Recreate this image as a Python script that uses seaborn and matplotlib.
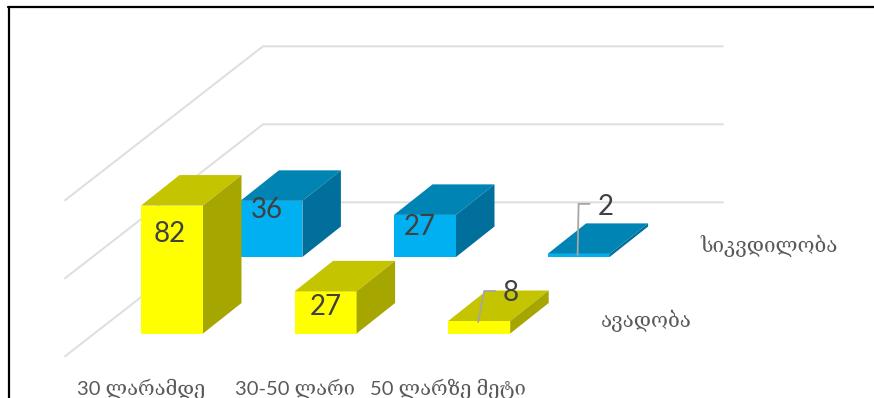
import matplotlib
matplotlib.use("Agg")
import matplotlib.pyplot as plt
from matplotlib.lines import Line2D
from matplotlib.patches import Polygon
import pandas as pd
import seaborn as sns

categories = ["30 ლარამდე", "30-50 ლარი", "50 ლარზე მეტი"]
morbidity = [82, 27, 8]
mortality = [36, 27, 2]
series_names = ["ავადობა", "სიკვდილობა"]
wall_ticks = [0, 50, 100]

sns.set_theme(style="white")
plt.rcParams["font.family"] = ["Lato", "DejaVu Serif", "DejaVu Sans"]

W, H = 874, 398
CAT_PX = 153.6      # pixels per category step
VAL_PX = 1.56       # pixels per value unit
ORIGIN_X, ORIGIN_Y = 172.0, 333.5   # category 0, value 0
BAR_WIDTH = 62 / CAT_PX
DEPTH_X, DEPTH_Y = 38.5 / CAT_PX, 30.5 / VAL_PX
ROW_SHIFT_X, ROW_SHIFT_Y = 99.4, 76.5


def px(x, y):
    """Pixel position on the canvas to data coordinates of the front plane."""
    return (x - ORIGIN_X) / CAT_PX, (ORIGIN_Y - y) / VAL_PX


fig = plt.figure(figsize=(W / 100, H / 100), dpi=100, facecolor="white")


def make_axes(left_px=0.0, up_px=0.0, zorder=0):
    ax = fig.add_axes([left_px / W, up_px / H, 1, 1], zorder=zorder)
    ax.patch.set_visible(False)
    return ax


def finish_axes(ax):
    ax.set_xlim(*(px(0, 0)[0], px(W, 0)[0]))
    ax.set_ylim(px(0, H)[1], px(0, 0)[1])
    ax.set_axis_off()


def draw_row(ax, values, front, top, side):
    frame = pd.DataFrame({"category": categories, "value": values})
    sns.barplot(data=frame, x="category", y="value", order=categories, color=front,
                saturation=1, width=BAR_WIDTH, errorbar=None, linewidth=0, ax=ax)
    for bar in list(ax.patches):
        x0, x1 = bar.get_x(), bar.get_x() + bar.get_width()
        h = bar.get_height()
        ax.add_patch(Polygon([(x0, h), (x1, h), (x1 + DEPTH_X, h + DEPTH_Y), (x0 + DEPTH_X, h + DEPTH_Y)],
                             closed=True, facecolor=top, edgecolor="none"))
        ax.add_patch(Polygon([(x1, 0), (x1, h), (x1 + DEPTH_X, h + DEPTH_Y), (x1 + DEPTH_X, DEPTH_Y)],
                             closed=True, facecolor=side, edgecolor="none"))
    finish_axes(ax)


def value_label(ax, i, value, dx, dy):
    ax.annotate(str(value), xy=(i, value), xytext=(dx * 0.72, -dy * 0.72),
                textcoords="offset points", ha="center", va="center",
                fontsize=20, color="#404040", zorder=6)


def leader(ax, i, value, points):
    xs = [i + p[0] / CAT_PX for p in points]
    ys = [value - p[1] / VAL_PX for p in points]
    ax.plot(xs, ys, color="#a6a6a6", lw=1.3, solid_joinstyle="miter", zorder=5)


# Back wall with its floor: each gridline runs in depth, then across
ax_wall = make_axes(zorder=0)
wall_x0, floor_y = px(65, 356.3)
wall_x1 = px(263, 0)[0]
wall_x2 = px(723, 0)[0]
wall_rise = 154 / VAL_PX
for tick in wall_ticks:
    y = floor_y + tick
    ax_wall.plot([wall_x0, wall_x1, wall_x2], [y, y + wall_rise, y + wall_rise],
                 color="#dedede", lw=1.4, solid_joinstyle="miter")
finish_axes(ax_wall)

# Rear row
ax_back = make_axes(ROW_SHIFT_X, ROW_SHIFT_Y, zorder=1)
draw_row(ax_back, mortality, "#00b0f0", "#0084b4", "#006f9c")

# Front row
ax_front = make_axes(zorder=2)
draw_row(ax_front, morbidity, "#ffff00", "#c4c400", "#a6a600")

ax_labels = make_axes(zorder=3)
finish_axes(ax_labels)

# Value labels, offset in pixels from the top centre of each bar
value_label(ax_front, 0, morbidity[0], -2, 28)
value_label(ax_front, 1, morbidity[1], 0.5, 16)
value_label(ax_front, 2, morbidity[2], 31, -28)
value_label(ax_back, 0, mortality[0], -4, 9)
value_label(ax_back, 1, mortality[1], -5, 12)
value_label(ax_back, 2, mortality[2], 27, -47)

leader(ax_front, 2, morbidity[2], [(-1, 1), (5, -30), (16, -30)])
leader(ax_back, 2, mortality[2], [(-1, 1), (0, -50), (11, -50)])

# Category labels sit under the front-left corner of each bar
for i, name in enumerate(categories):
    ax_labels.text(i - BAR_WIDTH / 2, px(0, 389)[1], name, ha="center", va="center",
                   fontsize=14.5, color="#595959")

for name, anchor in zip(series_names, [(601, 321), (700, 245.5)]):
    ax_labels.text(*px(*anchor), name, ha="left", va="center", fontsize=14.9, color="#595959")

# Outer frame, open on the right and at the bottom
fig.add_artist(Line2D([9 / W, 9 / W], [0, 1 - 6.5 / H], color="black", lw=1.6))
fig.add_artist(Line2D([8 / W, 1], [1 - 6.5 / H, 1 - 6.5 / H], color="black", lw=1.6))

fig.savefig("out.png", dpi=100)
